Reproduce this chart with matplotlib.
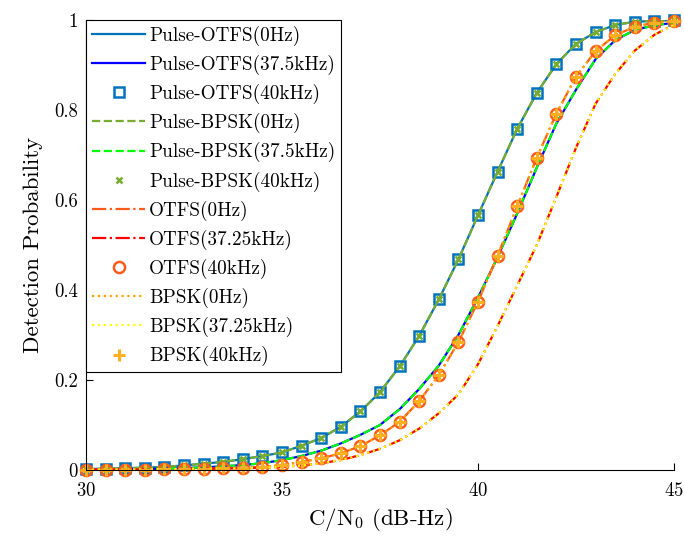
import numpy as np
import matplotlib
matplotlib.use("Agg")
import matplotlib.pyplot as plt

# C/N0 grid (dB-Hz)
cn0 = np.arange(30, 45.5, 0.5)

# Pulse-OTFS / Pulse-BPSK at 0 Hz and 40 kHz (same curve)
pd_pulse = [0.002, 0.003, 0.004, 0.005, 0.007, 0.010, 0.014, 0.018, 0.024, 0.031,
            0.039, 0.054, 0.071, 0.096, 0.130, 0.173, 0.230, 0.298, 0.379, 0.468,
            0.566, 0.663, 0.758, 0.838, 0.902, 0.947, 0.973, 0.989, 0.996, 0.998, 1.0]

# Pulse-OTFS / Pulse-BPSK at 37.5 kHz
pd_pulse_375 = [0.001, 0.001, 0.002, 0.002, 0.003, 0.004, 0.006, 0.008, 0.011, 0.015,
                0.022, 0.031, 0.043, 0.059, 0.078, 0.100, 0.135, 0.180, 0.232, 0.300,
                0.383, 0.473, 0.570, 0.672, 0.770, 0.845, 0.913, 0.955, 0.978, 0.988, 0.994]

# OTFS / BPSK at 0 Hz and 40 kHz
pd_plain = [0.001, 0.001, 0.001, 0.001, 0.002, 0.002, 0.003, 0.004, 0.005, 0.007,
            0.011, 0.018, 0.026, 0.037, 0.053, 0.077, 0.107, 0.153, 0.211, 0.284,
            0.374, 0.476, 0.586, 0.694, 0.792, 0.874, 0.931, 0.966, 0.985, 0.994, 0.997]

# OTFS / BPSK at 37.25 kHz
pd_plain_3725 = [0.000, 0.001, 0.001, 0.001, 0.002, 0.002, 0.003, 0.003, 0.004, 0.005,
                 0.007, 0.010, 0.015, 0.022, 0.033, 0.047, 0.066, 0.092, 0.126, 0.168,
                 0.235, 0.320, 0.410, 0.500, 0.607, 0.716, 0.814, 0.880, 0.932, 0.967, 0.990]

plt.rcParams['font.family'] = ['cmr10', 'DejaVu Serif']
plt.rcParams['mathtext.fontset'] = 'cm'
plt.rcParams['axes.unicode_minus'] = False
plt.rcParams['axes.formatter.use_mathtext'] = True

fig = plt.figure(figsize=(6.84, 5.37), dpi=100)
ax = fig.add_axes([0.1257, 0.1248, 0.8597, 0.838])

lw = 1.6
ax.plot(cn0, pd_pulse, '-', color='#0072BD', lw=lw, label='Pulse-OTFS(0Hz)')
ax.plot(cn0, pd_pulse_375, '-', color='#0000FF', lw=lw, label='Pulse-OTFS(37.5kHz)')
ax.plot(cn0, pd_pulse, 's', color='#0072BD', mfc='none', mew=1.8, ms=6.8,
        clip_on=False, label='Pulse-OTFS(40kHz)')
ax.plot(cn0, pd_pulse, '--', color='#77AC30', lw=lw, label='Pulse-BPSK(0Hz)')
ax.plot(cn0, pd_pulse_375, '--', color='#00FF00', lw=lw, label='Pulse-BPSK(37.5kHz)')
ax.plot(cn0, pd_pulse, 'x', color='#77AC30', mew=1.8, ms=5,
        clip_on=False, label='Pulse-BPSK(40kHz)')
ax.plot(cn0, pd_plain, '-.', color='#FF5A1A', lw=lw, label='OTFS(0Hz)')
ax.plot(cn0, pd_plain_3725, '-.', color='#FF0000', lw=lw, label='OTFS(37.25kHz)')
ax.plot(cn0, pd_plain, 'o', color='#FF5A1A', mfc='none', mew=1.8, ms=8,
        clip_on=False, label='OTFS(40kHz)')
ax.plot(cn0, pd_plain, ':', color='#FFA500', lw=lw, label='BPSK(0Hz)')
ax.plot(cn0, pd_plain_3725, ':', color='#FFFF00', lw=lw, label='BPSK(37.25kHz)')
ax.plot(cn0, pd_plain, '+', color='#FFB020', mew=2.2, ms=8,
        clip_on=False, label='BPSK(40kHz)')

ax.set_xlim(30, 45)
ax.set_ylim(0, 1)
ax.set_xticks([30, 35, 40, 45])
ax.set_yticks([0, 0.2, 0.4, 0.6, 0.8, 1])
ax.set_yticklabels(['0', '0.2', '0.4', '0.6', '0.8', '1'])
ax.spines['top'].set_visible(False)
ax.spines['right'].set_visible(False)
ax.tick_params(direction='in', length=5, labelsize=13.5)
ax.tick_params(axis='x', pad=9)
ax.tick_params(axis='y', pad=6)

ax.set_xlabel(r'C/N$_0$ (dB-Hz)', fontsize=16.5, labelpad=4)
ax.set_ylabel('Detection Probability', fontsize=16.5, labelpad=8)

leg = ax.legend(loc='upper left', bbox_to_anchor=(0, 1), borderaxespad=0,
                fontsize=13.8, fancybox=False, framealpha=1, edgecolor='black',
                handlelength=2.8, handletextpad=0.2, labelspacing=0.47,
                borderpad=0.3)
leg.get_frame().set_linewidth(0.8)

fig.savefig('out.png', dpi=100)
